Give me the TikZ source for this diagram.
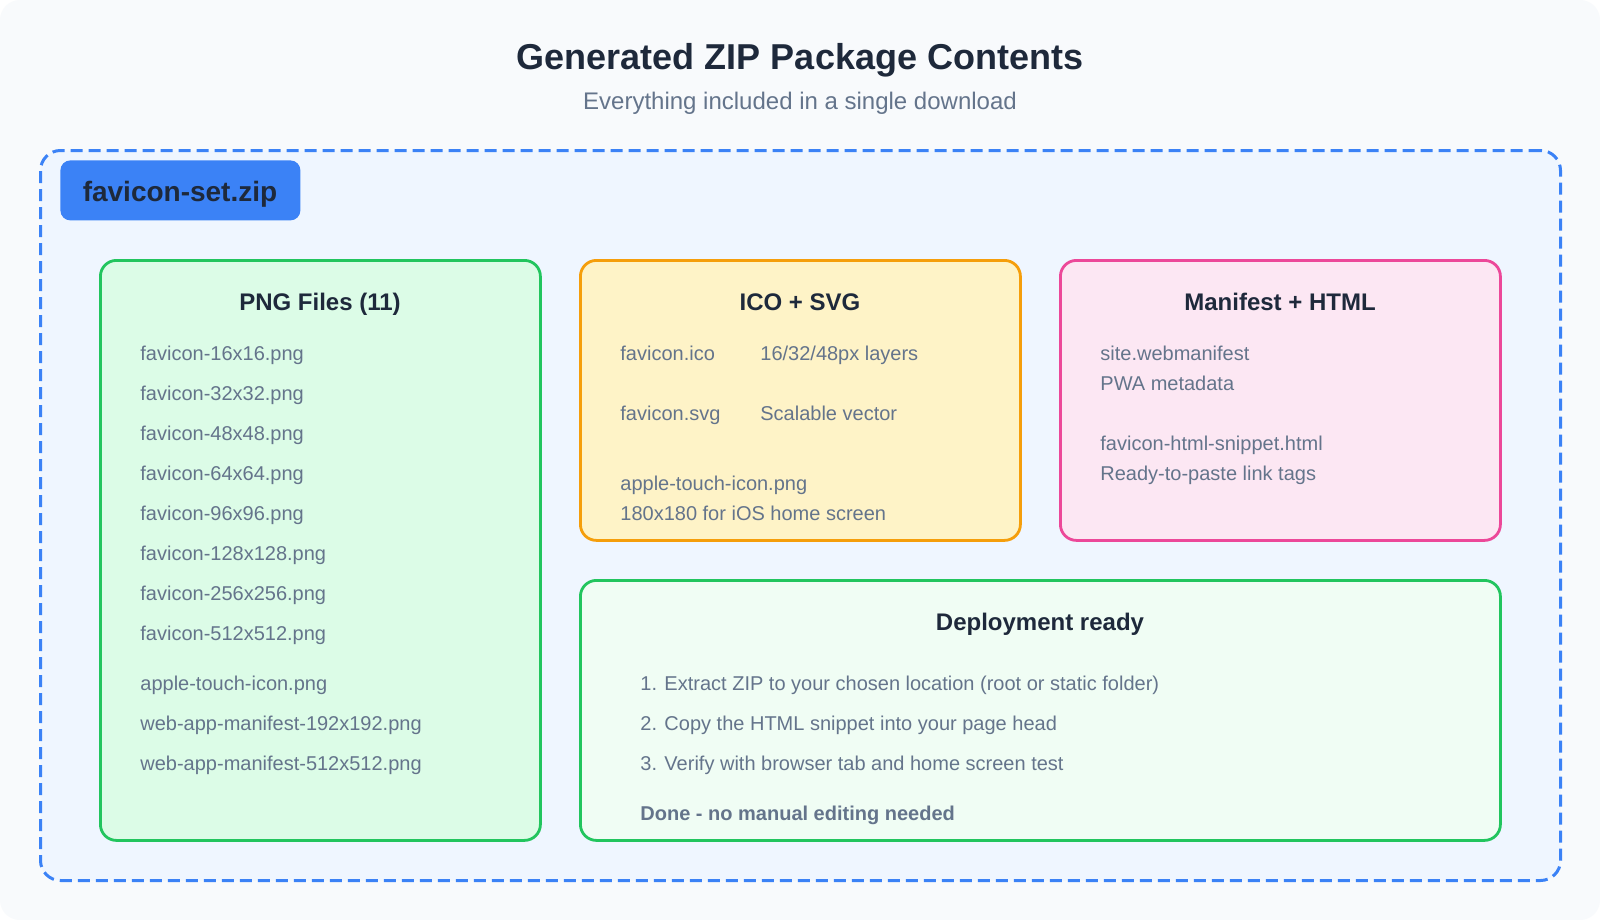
\documentclass[tikz,border=0pt]{standalone}
\usepackage{fontspec}
\setmainfont{Liberation Sans}
\usetikzlibrary{positioning}
\definecolor{ink}{HTML}{1E293B}
\definecolor{muted}{HTML}{64748B}
\definecolor{canvas}{HTML}{F8FAFC}
\definecolor{zipblue}{HTML}{3B82F6}
\definecolor{zipfill}{HTML}{EFF6FF}
\definecolor{pngline}{HTML}{22C55E}
\definecolor{pngfill}{HTML}{DCFCE7}
\definecolor{icoline}{HTML}{F59E0B}
\definecolor{icofill}{HTML}{FEF3C7}
\definecolor{manline}{HTML}{EC4899}
\definecolor{manfill}{HTML}{FCE7F3}
\definecolor{depfill}{HTML}{F0FDF4}

\begin{document}
\begin{tikzpicture}[x=0.5pt,y=-0.5pt,
    panel/.style={draw,line width=1.4pt,rounded corners=8pt,anchor=north west,inner sep=0pt},
    head/.style={font=\bfseries\fontsize{12}{14}\selectfont,text=ink,anchor=base,inner sep=0pt},
    item/.style={font=\fontsize{10}{12}\selectfont,text=muted,anchor=base west,inner sep=0pt}]
    \fill[white] (0,0) rectangle (1600,920);
    \fill[canvas,rounded corners=10pt] (0,0) rectangle (1600,920);
    \useasboundingbox (0,0) rectangle (1600,920);
    \node[anchor=base,inner sep=0pt,text=ink,font=\bfseries\fontsize{18}{22}\selectfont] (title) at (800,70) {Generated ZIP Package Contents};
    \node[anchor=base,inner sep=0pt,text=muted,font=\fontsize{12}{14}\selectfont] (subtitle) at (800,110) {Everything included in a single download};
    \node[panel,draw=zipblue,fill=zipfill,dash pattern=on 6pt off 3pt,line width=1.5pt,rounded corners=10pt,minimum width=760pt,minimum height=365pt] (zip) at (39,149) {};
    \node[panel,draw=none,fill=zipblue,rounded corners=5pt,minimum width=120pt,minimum height=30pt] (badge) at (59,159) {};
    \node[anchor=base,inner sep=0pt,text=ink,font=\bfseries\fontsize{14}{17}\selectfont] (badgetext) at (180,201) {favicon-set.zip};
    \node[panel,draw=pngline,fill=pngfill,minimum width=220pt,minimum height=290pt] (png) at (99,259) {};
    \node[panel,draw=icoline,fill=icofill,minimum width=220pt,minimum height=140pt] (ico) at (579,259) {};
    \node[panel,draw=manline,fill=manfill,minimum width=220pt,minimum height=140pt] (man) at (1059,259) {};
    \node[panel,draw=pngline,fill=depfill,minimum width=460pt,minimum height=130pt] (dep) at (579,579) {};
    \node[head] (pnghead) at (320,310) {PNG Files (11)};
    \node[head] (icohead) at (800,310) {ICO + SVG};
    \node[head] (manhead) at (1280,310) {Manifest + HTML};
    \node[head] (dephead) at (1040,630) {Deployment ready};
    \foreach \s [count=\i] in {16x16,32x32,48x48,64x64,96x96,128x128,256x256,512x512}
        \node[item] (png\i) at (140,320+40*\i) {favicon-\s.png};
    \node[item] (apple) at (140,690) {apple-touch-icon.png};
    \node[item] (web192) at (140,730) {web-app-manifest-192x192.png};
    \node[item] (web512) at (140,770) {web-app-manifest-512x512.png};
    \node[item] (ico1) at (620,360) {favicon.ico};
    \node[item] (ico2) at (760,360) {16/32/48px layers};
    \node[item] (svg1) at (620,420) {favicon.svg};
    \node[item] (svg2) at (760,420) {Scalable vector};
    \node[item] (touch1) at (620,490) {apple-touch-icon.png};
    \node[item] (touch2) at (620,520) {180x180 for iOS home screen};
    \node[item] (man1) at (1100,360) {site.webmanifest};
    \node[item] (man2) at (1100,390) {PWA metadata};
    \node[item] (snip1) at (1100,450) {favicon-html-snippet.html};
    \node[item] (snip2) at (1100,480) {Ready-to-paste link tags};
    \node[item] (step1) at (640,690) {1. Extract ZIP to your chosen location (root or static folder)};
    \node[item] (step2) at (640,730) {2. Copy the HTML snippet into your page head};
    \node[item] (step3) at (640,770) {3. Verify with browser tab and home screen test};
    \node[item,font=\bfseries\fontsize{10}{12}\selectfont] (done) at (640,820) {Done - no manual editing needed};
\end{tikzpicture}
\end{document}
